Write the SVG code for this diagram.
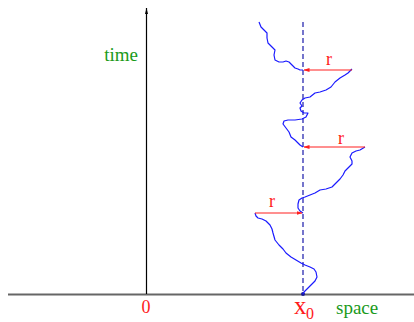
<svg xmlns="http://www.w3.org/2000/svg" width="414" height="322" viewBox="0 0 414 322">
<defs>
<style>
.t{font-family:"Liberation Serif","DejaVu Serif",serif;font-size:18px}
.g{fill:#1a9a1a}
.rd{fill:#ff1a1a}
.walk{fill:none;stroke:#1a1aff;stroke-width:1.2;stroke-linejoin:round}
.rl{stroke:#ff2020;stroke-width:1.2;fill:none}
</style>
<marker id="ah" viewBox="0 0 6 6" refX="5.5" refY="3" markerWidth="6" markerHeight="6" markerUnits="userSpaceOnUse" orient="auto">
<path d="M0,1 L6,3 L0,5 z" fill="#ff2020"/>
</marker>
</defs>
<g id="axes">
<line x1="8" y1="294.5" x2="414" y2="294.5" stroke="#666" stroke-width="2"/>
<line x1="146.5" y1="294" x2="146.5" y2="8" stroke="#000" stroke-width="1.2"/>
<path d="M146.5,8 L145,14 L148,14 z" fill="#000"/>
<line x1="303" y1="22" x2="303" y2="294" stroke="#1a1aaa" stroke-width="1.2" stroke-dasharray="5,3"/>
<circle cx="303" cy="294" r="2" fill="#1a1a99"/>
</g>
<g id="walk">
<path class="walk" d="M259,22 L261,27 L264,30 L267,33 L267,38 L268,43 L272,47 L275,50 L274,55 L275,60 L279,62 L283,62 L286,61 L289,62 L292,65 L295,68 L298,69 L300,70 L303,70"/>
<path class="walk" d="M352,69 L348,73 L345,75 L340,78 L335,82 L331,87 L326,90 L320,92 L315,93 L310,97 L305,98 L302,100 L300,103 L302,106 L300,108 L301,111 L304,113 L308,113 L306,117 L302,119 L295,120 L288,120 L284,121 L283,124 L286,128 L289,132 L291,137 L295,140 L298,143 L300,145 L303,147"/>
<path class="walk" d="M365,147 L360,150 L356,151 L352,153 L350,157 L352,161 L352,164 L348,168 L345,171 L343,175 L340,179 L336,183 L332,187 L326,189 L320,190 L315,193 L310,195 L305,197 L302,198 L299,200 L298,204 L298,208 L300,211 L303,213"/>
<path class="walk" d="M255,213 L256,216 L258,218 L262,219 L266,221 L270,225 L272,229 L273,233 L275,240 L279,245 L283,249 L286,253 L291,257 L296,260 L301,263 L305,265 L310,267 L314,269 L316,272 L317,277 L315,281 L311,285 L307,289 L304,292 L303,294"/>
</g>
<g id="connectors">
<line class="rl" x1="352" y1="70" x2="304" y2="70" marker-end="url(#ah)"/>
<line class="rl" x1="365" y1="147" x2="304" y2="147" marker-end="url(#ah)"/>
<line class="rl" x1="255" y1="213" x2="302" y2="213" marker-end="url(#ah)"/>
</g>
<g id="labels">
<text class="t rd" x="329" y="65" text-anchor="middle">r</text>
<text class="t rd" x="341" y="144" text-anchor="middle">r</text>
<text class="t rd" x="272" y="207" text-anchor="middle">r</text>
<text class="t g" x="138" y="61" text-anchor="end" style="font-size:19px">time</text>
<text class="t rd" x="146" y="313" text-anchor="middle">0</text>
<text class="t rd" x="294" y="314" style="font-size:25px">x</text>
<text class="t rd" x="306" y="319" style="font-size:16px">0</text>
<text class="t g" x="336" y="314" style="font-size:19px">space</text>
</g>
</svg>
